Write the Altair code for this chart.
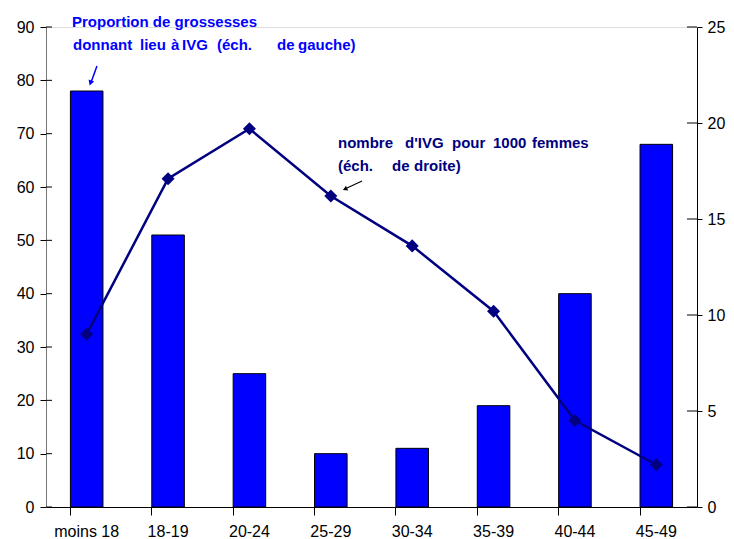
import altair as alt
import pandas as pd

categories = ["moins 18", "18-19", "20-24", "25-29", "30-34", "35-39", "40-44", "45-49"]
proportion = [78, 51, 25, 10, 11, 19, 40, 68]
ivg_1000 = [9.0, 17.1, 19.7, 16.2, 13.6, 10.2, 4.5, 2.2]
left_ticks = list(range(0, 91, 10))
right_ticks = list(range(0, 26, 5))

df = pd.DataFrame({"age": categories, "prop": proportion, "ivg": ivg_1000})

FONT = "Liberation Sans"
W, H = 651, 480

xsc = alt.Scale(domain=categories, paddingInner=0.6, paddingOuter=0.3)
ysc_l = alt.Scale(domain=[0, 90])
ysc_r = alt.Scale(domain=[0, 25])

bars = alt.Chart(df).mark_bar(color="#0000FF", stroke="black", strokeWidth=1).encode(
    x=alt.X("age:N", sort=categories, scale=xsc,
            axis=alt.Axis(title=None, labels=False, bandPosition=0, tickSize=8,
                          domainColor="black", tickColor="black", orient="bottom")),
    y=alt.Y("prop:Q", scale=ysc_l,
            axis=alt.Axis(title=None, values=left_ticks, grid=False,
                          tickSize=6, labelFontSize=16, labelFont=FONT, labelColor="black",
                          labelPadding=6, domainColor="#777777", tickColor="black")),
)
inner_l = alt.Chart(pd.DataFrame({"prop": left_ticks})).mark_tick(
    color="black", size=6, thickness=1, opacity=1).encode(
    y=alt.Y("prop:Q", scale=ysc_l), x=alt.value(3))

line = alt.Chart(df).mark_line(color="#000080", strokeWidth=2.5).encode(
    x=alt.X("age:N", sort=categories, scale=xsc,
            axis=alt.Axis(title=None, ticks=False, domain=False, labelAngle=0,
                          labelFontSize=16, labelFont=FONT, labelColor="black",
                          labelPadding=16, orient="bottom")),
    y=alt.Y("ivg:Q", scale=ysc_r,
            axis=alt.Axis(title=None, orient="right", values=right_ticks,
                          grid=False, tickSize=5, labelFontSize=16, labelFont=FONT,
                          labelColor="black", labelPadding=5, domainColor="black",
                          tickColor="black")),
)
points = alt.Chart(df).mark_point(shape="diamond", filled=True, color="#000080",
                                  size=170, opacity=1).encode(
    x=alt.X("age:N", sort=categories, scale=xsc),
    y=alt.Y("ivg:Q", scale=ysc_r),
)
inner_r = alt.Chart(pd.DataFrame({"ivg": right_ticks})).mark_tick(
    color="black", size=10, thickness=1, opacity=1).encode(
    y=alt.Y("ivg:Q", scale=ysc_r), x=alt.value(W - 5))

# annotation texts (positions relative to plot area)
ann1 = pd.DataFrame({
    "t": ["Proportion de grossesses", "donnant", "lieu", "à", "IVG", "(éch.", "de", "gauche)"],
    "px": [26, 27, 94, 125, 136, 171, 231, 252],
    "py": [0, 23, 23, 23, 23, 23, 23, 23]})
text1 = alt.Chart(ann1).mark_text(align="left", baseline="alphabetic", fontWeight="bold",
                                  fontSize=15, font=FONT, color="#0000FF").encode(
    x=alt.X("px:Q", scale=None), y=alt.Y("py:Q", scale=None), text="t:N")

ann2 = pd.DataFrame({
    "t": ["nombre", "d'IVG", "pour", "1000", "femmes", "(éch.", "de", "droite)"],
    "px": [292, 359, 406, 447, 486, 292, 346, 368],
    "py": [121, 121, 121, 121, 121, 144, 144, 144]})
text2 = alt.Chart(ann2).mark_text(align="left", baseline="alphabetic", fontWeight="bold",
                                  fontSize=15, font=FONT, color="#000080").encode(
    x=alt.X("px:Q", scale=None), y=alt.Y("py:Q", scale=None), text="t:N")

one = pd.DataFrame({"a": [0]})
arrow1 = alt.Chart(one).mark_rule(color="#0000FF", strokeWidth=1.5).encode(
    x=alt.value(51), y=alt.value(39), x2=alt.value(45.5), y2=alt.value(54))
head1 = alt.Chart(one).mark_point(shape="triangle-down", filled=True, color="#0000FF",
                                  size=35, opacity=1, angle=20).encode(
    x=alt.value(44.5), y=alt.value(56))
arrow2 = alt.Chart(one).mark_rule(color="black", strokeWidth=1.2).encode(
    x=alt.value(316), y=alt.value(154), x2=alt.value(301), y2=alt.value(161))
head2 = alt.Chart(one).mark_point(shape="triangle-left", filled=True, color="black",
                                  size=28, opacity=1, angle=335).encode(
    x=alt.value(299), y=alt.value(162))

left = alt.layer(bars, inner_l, text1, text2, arrow1, head1, arrow2, head2)
right = alt.layer(line, points, inner_r)

chart = alt.layer(left, right).resolve_scale(y="independent").resolve_axis(
    x="independent").properties(
    width=W, height=H,
    autosize=alt.AutoSizeParams(type="none"),
    padding={"left": 38, "top": 19, "right": 29, "bottom": 32},
).configure_view(stroke=None).configure(background="white")

chart.save("out.html", embed_options={"renderer": "svg", "actions": False})
